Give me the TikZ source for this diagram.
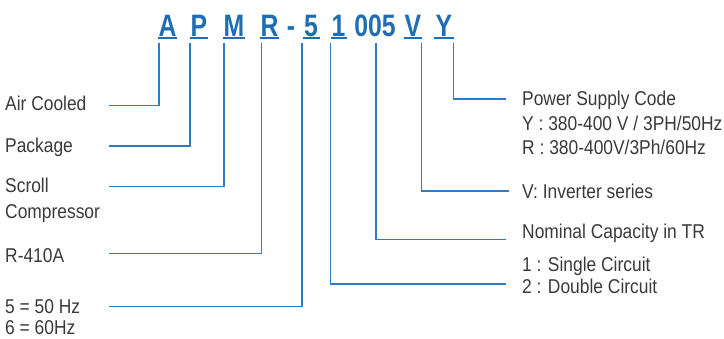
\documentclass[tikz,border=0pt]{standalone}
\usepackage{fontspec}
\setmainfont{Liberation Sans}[FakeStretch=0.87]
\newfontfamily\titlefont{Liberation Sans}[FakeStretch=0.8]
\definecolor{tblue}{HTML}{1F6EB5}
\definecolor{lblue}{HTML}{2E7CC2}
\definecolor{tgray}{HTML}{3A3A3A}
\begin{document}
\begin{tikzpicture}[x=1pt,y=-1pt,
  lbl/.style={anchor=base west,inner sep=0pt,text=tgray,font=\fontsize{20}{24}\selectfont},
  ttl/.style={anchor=base,inner sep=0pt,text=tblue,font=\titlefont\bfseries\fontsize{31}{34}\selectfont},
  uline/.style={draw=tblue,line width=1.8pt},
  conn/.style={draw=lblue,line width=1.2pt}]
\useasboundingbox (0,0) rectangle (724,338);
% title letters
\node[ttl] (tA) at (167.5,36) {A};
\node[ttl] (tP) at (199,36) {P};
\node[ttl] (tM) at (234,36) {M};
\node[ttl] (tR) at (269.5,36) {R};
\node[ttl] (tD) at (291,36) {-};
\node[ttl] (t5) at (311,36) {5};
\node[ttl] (t1) at (338.5,36) {1};
\node[ttl] (t005) at (375,36) {005};
\node[ttl] (tV) at (413,36) {V};
\node[ttl] (tY) at (444,36) {Y};
% underlines
\draw[uline] ([shift={(-9.5,1.8)}]tA.base) -- ([shift={(9.5,1.8)}]tA.base);
\draw[uline] ([shift={(-9,1.8)}]tP.base) -- ([shift={(9,1.8)}]tP.base);
\draw[uline] ([shift={(-11,1.8)}]tM.base) -- ([shift={(11,1.8)}]tM.base);
\draw[uline] ([shift={(-9.5,1.8)}]tR.base) -- ([shift={(9.5,1.8)}]tR.base);
\draw[uline] ([shift={(-8.5,1.8)}]t5.base) -- ([shift={(8.5,1.8)}]t5.base);
\draw[uline] ([shift={(-8,1.8)}]t1.base) -- ([shift={(8,1.8)}]t1.base);
\draw[uline] ([shift={(-9,1.8)}]tV.base) -- ([shift={(9,1.8)}]tV.base);
\draw[uline] ([shift={(-10,1.8)}]tY.base) -- ([shift={(10,1.8)}]tY.base);
% left labels
\node[lbl] (air) at (5,110.7) {Air Cooled};
\node[lbl] (pack) at (5,152.3) {Package};
\node[lbl] (scr1) at (5,192.3) {Scroll};
\node[lbl] (scr2) at (5,218.5) {Compressor};
\node[lbl] (ref) at (5,262) {R-410A};
\node[lbl] (hz1) at (5,313.5) {5 = 50 Hz};
\node[lbl] (hz2) at (5,334.5) {6 = 60Hz};
% right labels
\node[lbl] (ps1) at (522,105.7) {Power Supply Code};
\node[lbl] (ps2) at (522,130.5) {Y : 380-400 V / 3PH/50Hz};
\node[lbl] (ps3) at (522,154.3) {R : 380-400V/3Ph/60Hz};
\node[lbl] (inv) at (522,198) {V: Inverter series};
\node[lbl] (cap) at (522,238.5) {Nominal Capacity in TR};
\node[lbl] (ci1) at (522,271.5) {1 : Single Circuit};
\node[lbl] (ci2) at (522,293.5) {2 : Double Circuit};
% connector anchor points
\coordinate (sA) at (159,43);   \coordinate (eA) at (109,105.7);
\coordinate (sP) at (190,43);   \coordinate (eP) at (109,146);
\coordinate (sM) at (224,43);   \coordinate (eM) at (109,186.7);
\coordinate (sR) at (261.7,43); \coordinate (eR) at (109,253.3);
\coordinate (s5) at (302,43);   \coordinate (e5) at (109,306.7);
\coordinate (s1) at (330.5,43); \coordinate (e1) at (506,284);
\coordinate (s0) at (376,43);   \coordinate (e0) at (506,239.3);
\coordinate (sV) at (421.5,43); \coordinate (eV) at (509,191);
\coordinate (sY) at (453.5,43); \coordinate (eY) at (506,99);
\draw[conn] (sA) |- (eA);
\draw[conn] (sP) |- (eP);
\draw[conn] (sM) |- (eM);
\draw[conn] (sR) |- (eR);
\draw[conn] (s5) |- (e5);
\draw[conn] (s1) |- (e1);
\draw[conn] (s0) |- (e0);
\draw[conn] (sV) |- (eV);
\draw[conn] (sY) |- (eY);
\end{tikzpicture}
\end{document}
